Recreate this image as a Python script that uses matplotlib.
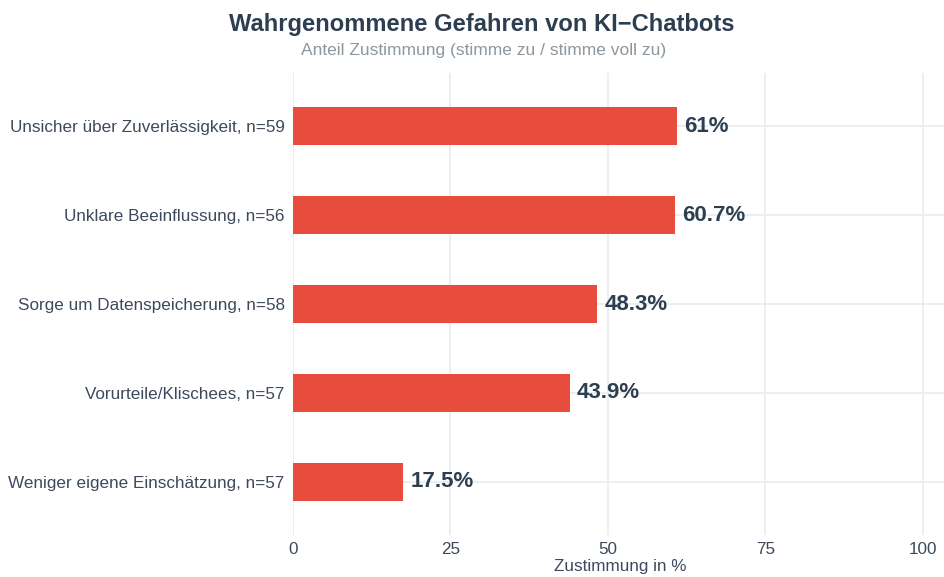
import matplotlib
matplotlib.use("Agg")
import matplotlib.pyplot as plt

categories = [
    "Unsicher über Zuverlässigkeit, n=59",
    "Unklare Beeinflussung, n=56",
    "Sorge um Datenspeicherung, n=58",
    "Vorurteile/Klischees, n=57",
    "Weniger eigene Einschätzung, n=57",
]
values = [61.0, 60.7, 48.3, 43.9, 17.5]
value_labels = ["61%", "60.7%", "48.3%", "43.9%", "17.5%"]
x_ticks = [0, 25, 50, 75, 100]

plt.rcParams["font.family"] = ["Liberation Sans", "DejaVu Sans"]

dark = "#2C3E50"
grid_col = "#EBEEF0"

fig = plt.figure(figsize=(9.45, 5.77), dpi=100)
ax = fig.add_axes([293 / 945, 1 - 535 / 577, 1 - 293 / 945, 462 / 577])

pos = list(range(len(categories)))
ax.barh(pos, values, height=0.43, color="#E74C3C", zorder=2)
for p, v, lab in zip(pos, values, value_labels):
    ax.annotate(lab, (v, p), xytext=(5, 0), textcoords="offset points",
                va="center", ha="left", fontsize=16, fontweight="bold",
                color=dark, zorder=3)

ax.set_xlim(0, 103.5)
ax.set_ylim(len(categories) - 0.4, -0.6)
ax.set_xticks(x_ticks)
ax.set_yticks(pos)
ax.set_yticklabels(categories)
ax.tick_params(axis="both", length=0, labelsize=12.3, colors="#3D4A5C")
ax.tick_params(axis="y", pad=6)
ax.tick_params(axis="x", pad=5)
ax.grid(True, color=grid_col, linewidth=1.3, zorder=0)
ax.set_axisbelow(True)
for s in ax.spines.values():
    s.set_visible(False)
ax.set_xlabel("Zustimmung in %", fontsize=12.3, color="#3D4A5C")
ax.xaxis.set_label_coords((620 - 293) / (945 - 293), -(566 - 535) / 462)
ax.xaxis.label.set_va("center")

fig.text(0.51, 1 - 25 / 577, "Wahrgenommene Gefahren von KI\u2212Chatbots",
         ha="center", va="center", fontsize=17.1, fontweight="bold", color=dark)
fig.text(0.512, 1 - 50 / 577, "Anteil Zustimmung (stimme zu / stimme voll zu)",
         ha="center", va="center", fontsize=12.5, color="#8C979E")

fig.savefig("out.png", dpi=100)
